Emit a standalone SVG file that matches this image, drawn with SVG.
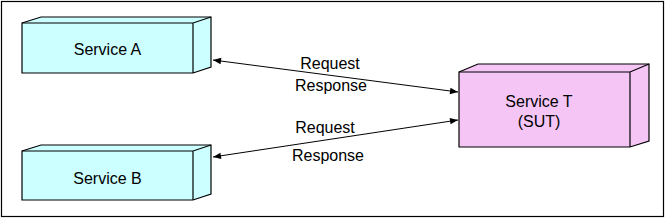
<svg xmlns="http://www.w3.org/2000/svg" width="667" height="218" viewBox="0 0 667 218">
<defs>
<style>
.box{stroke:#000;stroke-width:1.2;stroke-linejoin:miter}
.cyan{fill:#CCFFFF}
.pink{fill:#F5C6F5}
.lbl{font-family:"Liberation Sans",Arial,sans-serif;font-size:16px;fill:#000;text-anchor:middle}
.conn{stroke:#000;stroke-width:1;fill:none;marker-start:url(#ah);marker-end:url(#ah)}
</style>
<marker id="ah" viewBox="0 0 10 10" refX="10" refY="5" markerWidth="12" markerHeight="8" markerUnits="userSpaceOnUse" orient="auto-start-reverse">
<path d="M0,1 L10,5 L0,9 Z" fill="#000"/>
</marker>
</defs>
<rect x="1.5" y="1.5" width="662" height="215" fill="#fff" stroke="#000" stroke-width="1.2"/>
<g id="service-a">
<path class="box cyan" d="M22,23 L41,17 L211,17 L211,67 L193,73 L22,73 Z"/>
<path class="box" fill="none" d="M22,23 L193,23 L211,17 M193,23 L193,73"/>
<text class="lbl" x="107.5" y="55">Service A</text>
</g>
<g id="service-b">
<path class="box cyan" d="M22,151 L41,145 L211,145 L211,194 L193,200 L22,200 Z"/>
<path class="box" fill="none" d="M22,151 L193,151 L211,145 M193,151 L193,200"/>
<text class="lbl" x="107.5" y="184">Service B</text>
</g>
<g id="service-t">
<path class="box pink" d="M459,72 L478,64 L649,64 L649,141 L630,147 L459,147 Z"/>
<path class="box" fill="none" d="M459,72 L630,72 L649,64 M630,72 L630,147"/>
<text class="lbl" x="539" y="106.5">Service T</text>
<text class="lbl" x="539" y="126.5">(SUT)</text>
</g>
<g id="connectors">
<line class="conn" x1="213" y1="60" x2="458" y2="92"/>
<line class="conn" x1="213" y1="157" x2="458" y2="120"/>
<text class="lbl" x="330" y="69">Request</text>
<text class="lbl" x="331" y="91">Response</text>
<text class="lbl" x="325" y="133">Request</text>
<text class="lbl" x="328" y="161">Response</text>
</g>
</svg>
